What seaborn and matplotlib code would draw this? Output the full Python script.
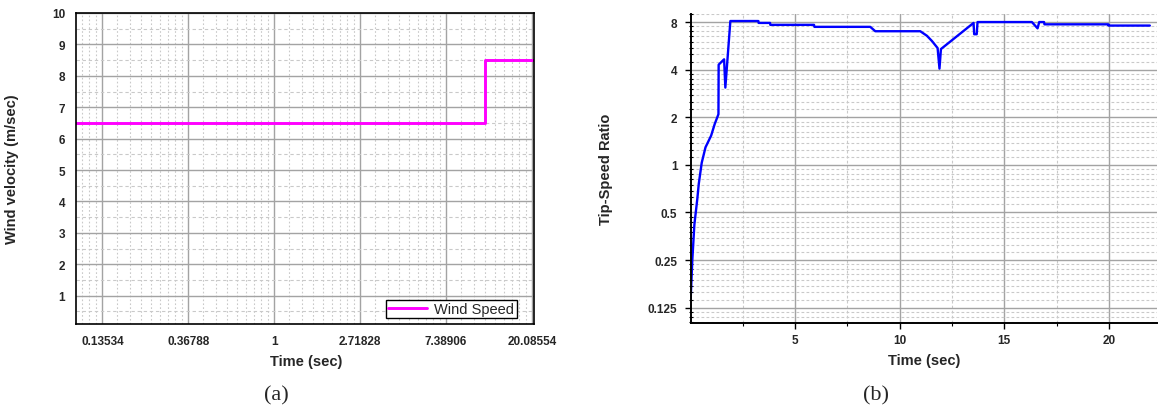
import numpy as np
import matplotlib
matplotlib.use("Agg")
import matplotlib.pyplot as plt
import seaborn as sns
from matplotlib.ticker import FixedLocator, FixedFormatter, NullFormatter

# ---- data -------------------------------------------------------------
# (a) wind speed step profile
wind_time = [0.1, 11.6, 20.65]
wind_speed = [6.5, 8.5, 8.5]
wind_xtick_labels = ["0.13534", "0.36788", "1", "2.71828", "7.38906", "20.08554"]
wind_ytick_values = [1, 2, 3, 4, 5, 6, 7, 8, 9, 10]

# (b) tip-speed ratio response
tsr_time = [0.00, 0.08, 0.18, 0.32, 0.39, 0.53, 0.71, 0.98, 1.15, 1.33,
            1.34, 1.60, 1.66, 1.90, 3.24, 3.25, 3.80, 3.81, 5.90, 5.92,
            8.59, 8.83, 10.98, 11.30, 11.54, 11.81, 11.90, 11.97, 13.53, 13.56,
            13.68, 13.72, 16.32, 16.59, 16.67, 16.90, 16.92, 19.97, 19.99, 21.96]
tsr_value = [0.14, 0.25, 0.42, 0.61, 0.76, 1.03, 1.29, 1.53, 1.81, 2.09,
             4.30, 4.65, 3.08, 8.12, 8.12, 7.90, 7.90, 7.68, 7.68, 7.46,
             7.46, 7.00, 7.00, 6.55, 6.07, 5.48, 4.06, 5.40, 7.90, 6.70,
             6.70, 8.00, 8.00, 7.30, 8.00, 8.00, 7.74, 7.74, 7.60, 7.60]
tsr_xtick_values = [5, 10, 15, 20]
tsr_ytick_values = [0.125, 0.25, 0.5, 1, 2, 4, 8]
tsr_ytick_labels = ["0.125", "0.25", "0.5", "1", "2", "4", "8"]

# ---- style ------------------------------------------------------------
sns.set_style("white")
plt.rcParams["font.family"] = ["Liberation Sans", "DejaVu Sans"]

MAJOR_GRID = dict(color="#a3a3a3", linewidth=1.0, linestyle="-")
MINOR_GRID = dict(color="#c9c9c9", linewidth=0.8, linestyle=(0, (2.5, 2.0)))
TICK_FONT = dict(fontsize=8.5, fontweight="bold")
LABEL_FONT = dict(fontsize=10.5, fontweight="bold")


def between(majors, n):
    """n evenly spaced minor ticks between each pair of major ticks."""
    out = []
    for a, b in zip(majors[:-1], majors[1:]):
        out.extend(np.linspace(a, b, n + 2)[1:-1])
    return out


fig = plt.figure(figsize=(11.58, 4.10), dpi=100)
ax1 = fig.add_axes([0.066, 0.2073, 0.3955, 0.7586])
ax2 = fig.add_axes([0.5964, 0.2098, 0.4027, 0.7537])

# ---- (a) wind velocity ------------------------------------------------
ax1.set_xscale("log", base=np.e)
sns.lineplot(x=wind_time, y=wind_speed, ax=ax1, color="#ff00ff", linewidth=2.1,
             drawstyle="steps-post", estimator=None, sort=False,
             label="Wind Speed")
ax1.set_xlim(0.1, 20.65)
ax1.set_ylim(0.1, 10)

e_major = [np.exp(k) for k in range(-2, 4)]
e_all = [np.exp(k) for k in range(-3, 5)]
e_minor = [v for v in between(e_all, 8) if 0.1 <= v <= 20.65]
ax1.xaxis.set_major_locator(FixedLocator(e_major))
ax1.xaxis.set_major_formatter(FixedFormatter(wind_xtick_labels))
ax1.xaxis.set_minor_locator(FixedLocator(e_minor))
ax1.xaxis.set_minor_formatter(NullFormatter())
ax1.yaxis.set_major_locator(FixedLocator(wind_ytick_values))
ax1.yaxis.set_minor_locator(FixedLocator(np.arange(0.5, 10, 1.0)))

ax1.set_axisbelow(True)
ax1.grid(True, which="major", **MAJOR_GRID)
ax1.xaxis.grid(True, which="minor", color="#c9c9c9", linewidth=0.8,
               linestyle=(0, (1.5, 2.0)))
ax1.yaxis.grid(True, which="minor", color="#c9c9c9", linewidth=0.8,
               linestyle=(0, (3.0, 2.5)))

for s in ax1.spines.values():
    s.set_visible(True)
    s.set_color("black")
    s.set_linewidth(1.2)

ax1.tick_params(axis="y", which="major", direction="out", length=4.5, width=1.0,
                pad=3.5, color="black")
ax1.tick_params(axis="y", which="minor", direction="out", length=2.5, width=0.8,
                color="black")
ax1.tick_params(axis="x", which="major", direction="out", length=3.5, width=1.0,
                pad=4.5, color="black")
ax1.tick_params(axis="x", which="minor", direction="in", length=2.5, width=0.8,
                color="black")
for lab in ax1.get_xticklabels() + ax1.get_yticklabels():
    lab.set_fontsize(TICK_FONT["fontsize"])
    lab.set_fontweight(TICK_FONT["fontweight"])

ax1.set_xlabel("Time (sec)", **LABEL_FONT)
ax1.set_ylabel("Wind velocity (m/sec)", **LABEL_FONT)
ax1.xaxis.set_label_coords(0.502, -0.098)
ax1.yaxis.set_label_coords(-0.125, 0.5)

leg = ax1.legend(loc="lower right", bbox_to_anchor=(0.961, 0.019),
                 borderaxespad=0.0, frameon=True, fancybox=False,
                 handlelength=2.7, handletextpad=0.5, borderpad=0.15,
                 prop={"family": "Liberation Sans", "size": 10.5,
                       "weight": "normal"})
leg.get_frame().set_edgecolor("black")
leg.get_frame().set_linewidth(1.0)
leg.get_frame().set_facecolor("white")
leg.get_frame().set_alpha(1.0)

# ---- (b) tip-speed ratio ----------------------------------------------
ax2.set_yscale("log", base=2)
sns.lineplot(x=tsr_time, y=tsr_value, ax=ax2, color="#0000ff", linewidth=1.7,
             estimator=None, sort=False, legend=False)
ax2.set_xlim(0, 22.3)
ax2.set_ylim(0.1, 9.0)

octaves = [2.0 ** k for k in range(-4, 5)]
oct_minor = [v for v in between(octaves, 7) if 0.1 <= v <= 9.0]
ax2.yaxis.set_major_locator(FixedLocator(tsr_ytick_values))
ax2.yaxis.set_major_formatter(FixedFormatter(tsr_ytick_labels))
ax2.yaxis.set_minor_locator(FixedLocator(oct_minor))
ax2.yaxis.set_minor_formatter(NullFormatter())
ax2.xaxis.set_major_locator(FixedLocator(tsr_xtick_values))
ax2.xaxis.set_minor_locator(FixedLocator([2.5, 7.5, 12.5, 17.5]))

ax2.set_axisbelow(True)
ax2.grid(True, which="major", **MAJOR_GRID)
ax2.grid(True, which="minor", **MINOR_GRID)

ax2.spines["top"].set_visible(False)
ax2.spines["right"].set_visible(False)
for side in ("left", "bottom"):
    ax2.spines[side].set_visible(True)
    ax2.spines[side].set_color("black")
    ax2.spines[side].set_linewidth(1.4)

ax2.tick_params(axis="y", which="major", direction="out", length=4.0, width=1.0,
                pad=5.5, color="black", left=True)
ax2.tick_params(axis="y", which="minor", direction="inout", length=3.5,
                width=0.8, color="black", left=True)
ax2.tick_params(axis="x", which="major", direction="out", length=4.0, width=1.0,
                pad=4.0, color="black", bottom=True)
ax2.tick_params(axis="x", which="minor", direction="out", length=2.5,
                width=0.8, color="black", bottom=True)
for lab in ax2.get_xticklabels() + ax2.get_yticklabels():
    lab.set_fontsize(TICK_FONT["fontsize"])
    lab.set_fontweight(TICK_FONT["fontweight"])

ax2.set_xlabel("Time (sec)", **LABEL_FONT)
ax2.set_ylabel("Tip-Speed Ratio", **LABEL_FONT)
ax2.xaxis.set_label_coords(0.50, -0.097)
ax2.yaxis.set_label_coords(-0.166, 0.5)

# ---- panel captions ---------------------------------------------------
cap = dict(ha="center", va="center", fontsize=16,
           family=["Liberation Serif", "DejaVu Serif"])
fig.text(276.7 / 1158, 1 - 396 / 410, "(a)", **cap)
fig.text(876 / 1158, 1 - 396 / 410, "(b)", **cap)

fig.savefig("out.png", dpi=100)
